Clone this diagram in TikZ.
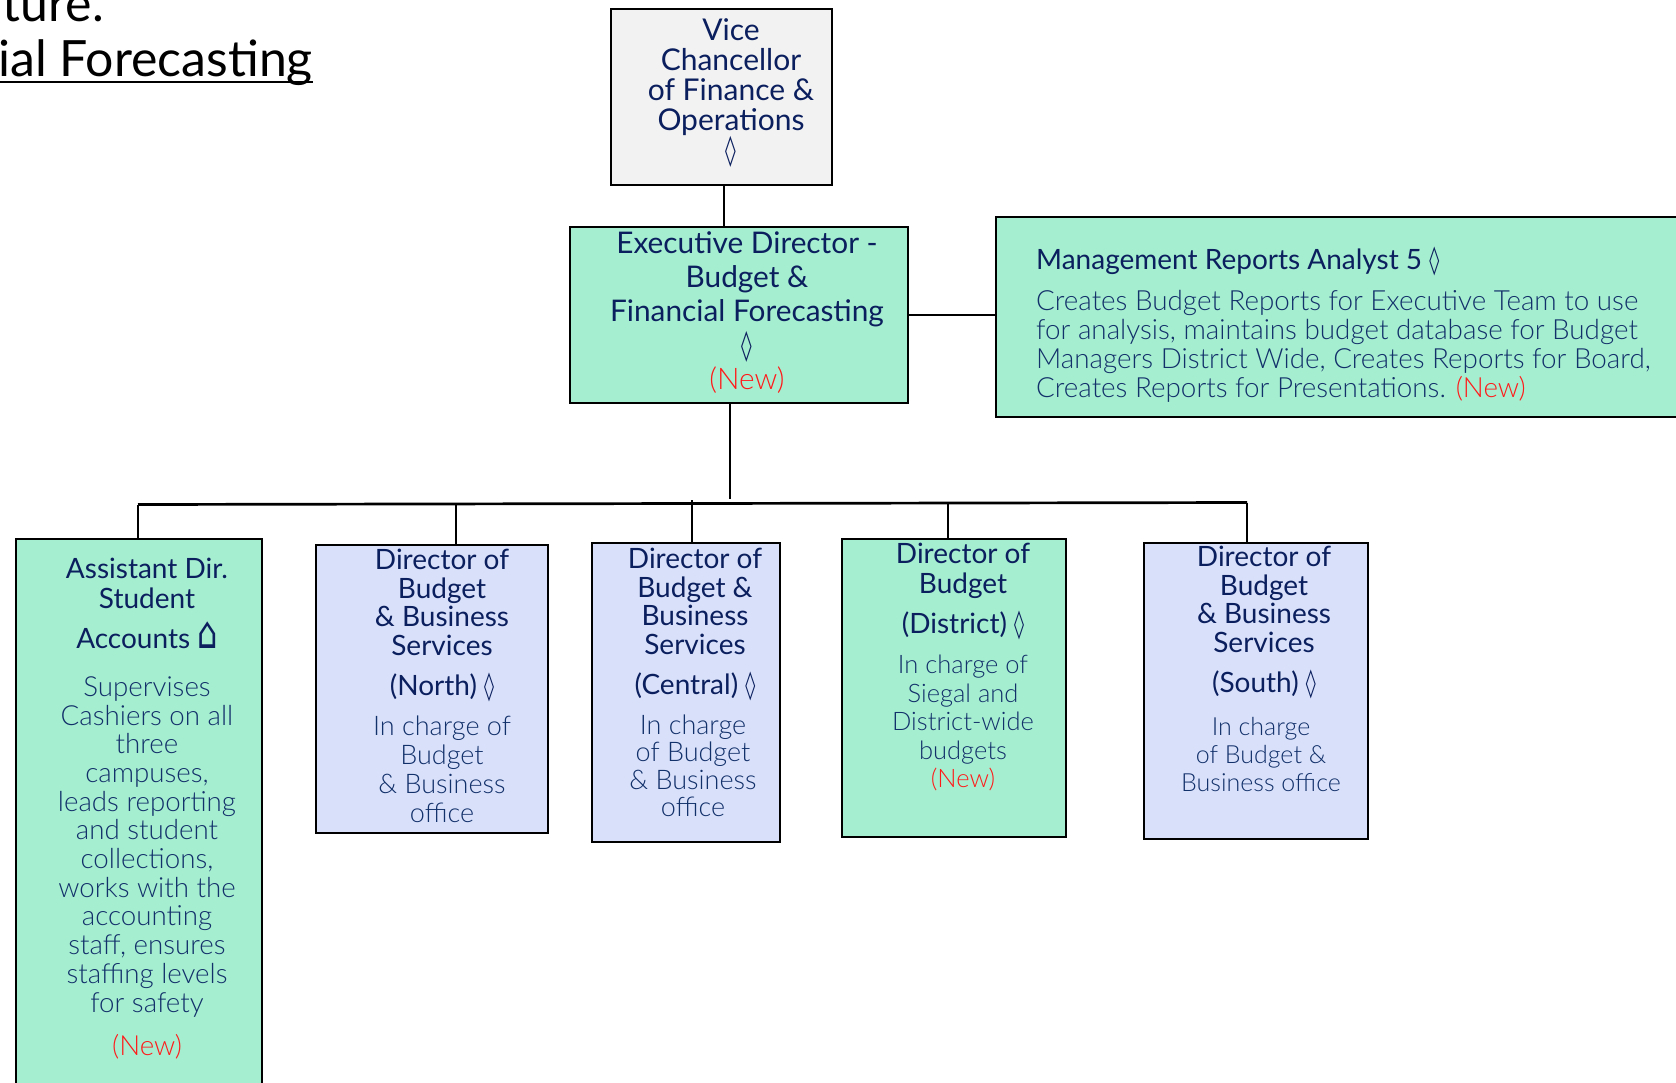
\documentclass[tikz,border=0pt]{standalone}
\usepackage{graphicx}
\usepackage{fontspec}
\setmainfont{Lato}
\newfontfamily\lightfont{Lato Light}
\newfontfamily\symbfont{DejaVu Sans}
\usetikzlibrary{positioning}
\definecolor{navy}{HTML}{0B1F5E}
\definecolor{bodyblue}{HTML}{12306A}
\definecolor{newred}{HTML}{FF1A1A}
\definecolor{tealfill}{HTML}{A6EED0}
\definecolor{bluefill}{HTML}{D9E1FA}
\definecolor{greyfill}{HTML}{F2F2F2}
\newcommand{\loz}{\scalebox{0.72}[1]{\symbfont\char"25CA}}
\newcommand{\hut}{\scalebox{1.15}[1.6]{\symbfont\char"2302}}
\newcommand{\newtag}{\textcolor{newred}{\lightfont (New)}}
\tikzset{
box/.style={draw=black,line width=2.7pt,inner sep=0pt,outer sep=0pt},
tealbox/.style={box,fill=tealfill},
bluebox/.style={box,fill=bluefill},
greybox/.style={box,fill=greyfill},
head/.style={align=center,inner sep=0pt,text=navy,font=\fontsize{28}{30}\selectfont},
info/.style={align=center,inner sep=0pt,text=bodyblue,font=\fontsize{27}{29}\lightfont},
conn/.style={draw=black,line width=2.7pt}
}
\begin{document}
\begin{tikzpicture}[x=1pt,y=-1pt]
\useasboundingbox (0,0) rectangle (1676,1082);
% heading cut off by the page
\node[anchor=base east,inner sep=0pt,font=\fontsize{50}{52}\selectfont] (hone) at (104,21) {ture.};
\node[anchor=base east,inner sep=0pt,font=\fontsize{50}{52}\selectfont] (htwo) at (313,76) {ial Forecasting};
\draw[line width=2.5pt] ([yshift=-6pt]htwo.base west) -- ([yshift=-6pt]htwo.base east);
% boxes
\node[greybox,minimum width=221pt,minimum height=176pt] (vc) at (721.5,97) {};
\node[tealbox,minimum width=338pt,minimum height=176pt] (ed) at (739,315) {};
\node[tealbox,minimum width=700pt,minimum height=200pt,anchor=north west] (mra) at (996,217) {};
\node[tealbox,minimum width=246pt,minimum height=600pt,anchor=north west] (ad) at (16,539) {};
\node[bluebox,minimum width=232pt,minimum height=288pt] (north) at (432,689) {};
\node[bluebox,minimum width=188pt,minimum height=299pt] (central) at (686,692.5) {};
\node[tealbox,minimum width=224pt,minimum height=298pt] (district) at (954,688) {};
\node[bluebox,minimum width=224pt,minimum height=296pt] (south) at (1256,691) {};
% texts
\node[head,font=\fontsize{30}{30}\selectfont] (vctxt) at (731,93) {Vice\\Chancellor\\of Finance \&\\Operations\\\loz};
\node[head,font=\fontsize{29.8}{34}\selectfont] (edtxt) at (747,313) {Executive Director -\\Budget \&\\Financial Forecasting\\\loz\\\newtag};
\node[head,anchor=base west] (mrahead) at (1036,269) {Management Reports Analyst 5 \loz};
\node[info,anchor=north west,align=left,font=\fontsize{27.8}{29}\lightfont] (mrainfo) at (1036,290) {Creates Budget Reports for Executive Team to use\\for analysis, maintains budget database for Budget\\Managers District Wide, Creates Reports for Board,\\Creates Reports for Presentations. \newtag};
\node[head] (adhead) at (147,603) {Assistant Dir.\\Student\\[10pt]Accounts \hut};
\node[info,font=\fontsize{27.7}{28.7}\lightfont] (adinfo) at (147,868) {Supervises\\Cashiers on all\\three\\campuses,\\leads reporting\\and student\\collections,\\works with the\\accounting\\staff, ensures\\staffing levels\\for safety\\[15pt]\newtag};
\node[head,font=\fontsize{28}{28.5}\selectfont] (northhead) at (442,626) {Director of\\Budget\\\& Business\\Services\\[12pt](North) \loz};
\node[info] (northinfo) at (442,769) {In charge of\\Budget\\\& Business\\office};
\node[head,font=\fontsize{28}{28.5}\selectfont] (centralhead) at (695,625) {Director of\\Budget \&\\Business\\Services\\[12pt](Central) \loz};
\node[info,font=\fontsize{27}{27.5}\lightfont] (centralinfo) at (693,766) {In charge\\of Budget\\\& Business\\office};
\node[head] (districthead) at (963,592) {Director of\\Budget\\[10pt](District) \loz};
\node[info,font=\fontsize{25.5}{28.5}\lightfont] (districtinfo) at (963,723) {In charge of\\Siegal and\\District-wide\\budgets\\\newtag};
\node[head,font=\fontsize{28}{28.5}\selectfont] (southhead) at (1264,623) {Director of\\Budget\\\& Business\\Services\\[12pt](South) \loz};
\node[info,font=\fontsize{25}{28}\lightfont] (southinfo) at (1261,754) {In charge\\of Budget \&\\Business office};
% connectors
\coordinate (vcdrop) at (724,206);
\coordinate (eddrop) at (730,499);
\coordinate (busl) at (138,504.5);
\coordinate (busr) at (1247,502.5);
\coordinate (northtop) at (456,504);
\coordinate (centraltop) at (692,500);
\coordinate (districttop) at (948,503);
\draw[conn] (vcdrop |- vc.south) -- (vcdrop |- ed.north);
\draw[conn] (ed.east) -- (ed.east -| mra.west);
\draw[conn] (eddrop |- ed.south) -- (eddrop);
\draw[conn] (busl) -- (busr);
\draw[conn] (busl) -- (busl |- ad.north);
\draw[conn] (northtop) -- (northtop |- north.north);
\draw[conn] (centraltop) -- (centraltop |- central.north);
\draw[conn] (districttop) -- (districttop |- district.north);
\draw[conn] (busr) -- (busr |- south.north);
\end{tikzpicture}
\end{document}
